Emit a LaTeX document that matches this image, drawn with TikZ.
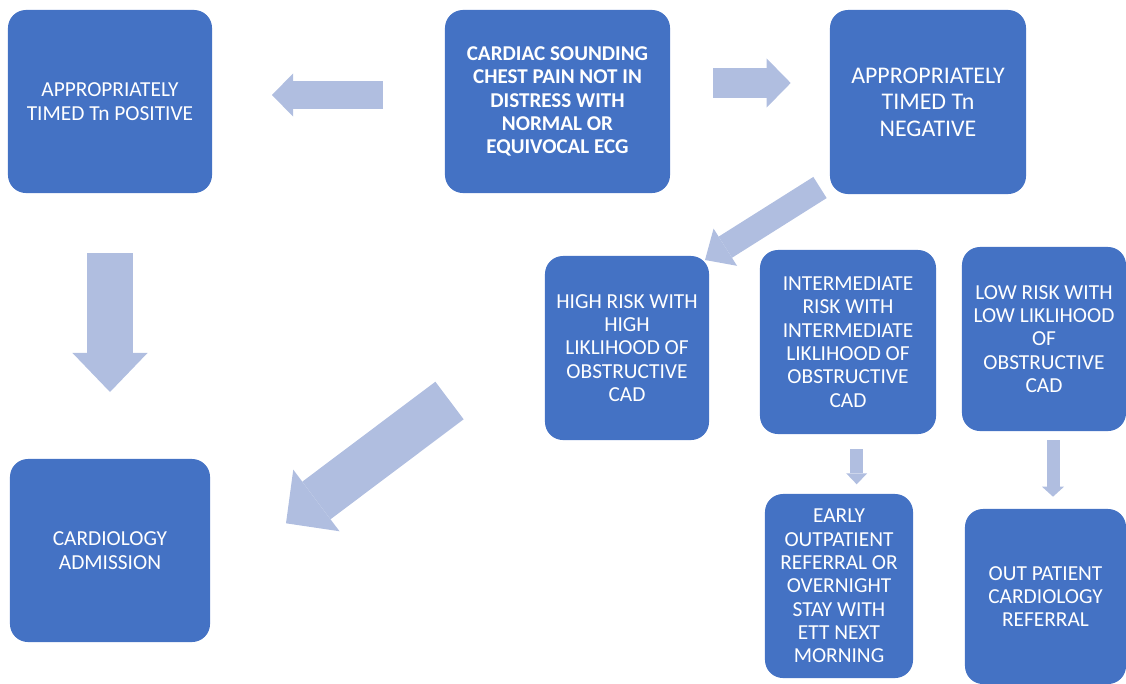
\documentclass[tikz,border=0pt]{standalone}
\usepackage{fontspec}
\setmainfont{Carlito}
\usetikzlibrary{arrows.meta}

\definecolor{boxblue}{RGB}{68,114,196}
\definecolor{arrowblue}{RGB}{176,190,224}

\tikzset{
  box/.style={fill=boxblue, rounded corners=0.45cm, text=white, align=center,
    font=\fontsize{15.2}{16.6}\selectfont, inner sep=2pt},
  blockarrow/.style n args={3}{draw=arrowblue, line width=#1,
    -{Triangle[length=#3, width=#2, line width=0pt]}},
}

\begin{document}
\begin{tikzpicture}[x=0.025cm, y=-0.025cm]
\useasboundingbox (0,0) rectangle (1126,684);

% Top row
\node[box, minimum width=5.1cm, minimum height=4.575cm] (pos) at (110,101.5) {APPROPRIATELY\\TIMED Tn POSITIVE};
\node[box, font=\fontsize{15}{16.6}\selectfont\bfseries, minimum width=5.625cm, minimum height=4.575cm] (chest) at (557.5,101.5) {CARDIAC SOUNDING\\CHEST PAIN NOT IN\\DISTRESS WITH\\NORMAL OR\\EQUIVOCAL ECG};
\node[box, font=\fontsize{17}{18.8}\selectfont, minimum width=4.9cm, minimum height=4.6cm] (neg) at (928,102) {APPROPRIATELY\\TIMED Tn\\NEGATIVE};

% Risk groups
\node[box, minimum width=4.1cm, minimum height=4.6cm] (high) at (627,348) {HIGH RISK WITH\\HIGH\\LIKLIHOOD OF\\OBSTRUCTIVE\\CAD};
\node[box, minimum width=4.4cm, minimum height=4.6cm] (mid) at (848,342) {INTERMEDIATE\\RISK WITH\\INTERMEDIATE\\LIKLIHOOD OF\\OBSTRUCTIVE\\CAD};
\node[box, minimum width=4.1cm, minimum height=4.6cm] (low) at (1044,339) {LOW RISK WITH\\LOW LIKLIHOOD\\OF\\OBSTRUCTIVE\\CAD};

% Outcomes
\node[box, minimum width=5cm, minimum height=4.575cm] (adm) at (110,550.5) {CARDIOLOGY\\ADMISSION};
\node[box, minimum width=3.7cm, minimum height=4.6cm] (ett) at (839,586) {EARLY\\OUTPATIENT\\REFERRAL OR\\OVERNIGHT\\STAY WITH\\ETT NEXT\\MORNING};
\node[box, minimum width=4.025cm, minimum height=4.375cm] (opd) at (1045.5,596.5) {OUT PATIENT\\CARDIOLOGY\\REFERRAL};

% Arrow ends
\coordinate (chestL) at (383,95);
\coordinate (posR) at (272,95);
\coordinate (chestR) at (713,83);
\coordinate (negL) at (790.7,83);
\coordinate (posB) at (110,253);
\coordinate (admT) at (110,392);
\coordinate (negB) at (820,187.5);
\coordinate (highT) at (705,260);
\coordinate (highL) at (449.5,400.5);
\coordinate (admR) at (286,523.3);
\coordinate (midB) at (856.7,449);
\coordinate (ettT) at (856.7,484.3);
\coordinate (lowB) at (1053,440);
\coordinate (opdT) at (1053,496.7);

% Block arrows
\draw[blockarrow={0.675cm}{1.075cm}{0.525cm}] (chestL) -- (posR);
\draw[blockarrow={0.725cm}{1.225cm}{0.6cm}] (chestR) -- (negL);
\draw[blockarrow={1.15cm}{1.875cm}{0.975cm}] (posB) -- (admT);
\draw[blockarrow={0.625cm}{1.1cm}{0.6cm}] (negB) -- (highT);
\draw[blockarrow={1.175cm}{1.925cm}{0.95cm}] (highL) -- (admR);
\draw[blockarrow={0.325cm}{0.525cm}{0.275cm}] (midB) -- (ettT);
\draw[blockarrow={0.325cm}{0.55cm}{0.25cm}] (lowB) -- (opdT);
\end{tikzpicture}
\end{document}
